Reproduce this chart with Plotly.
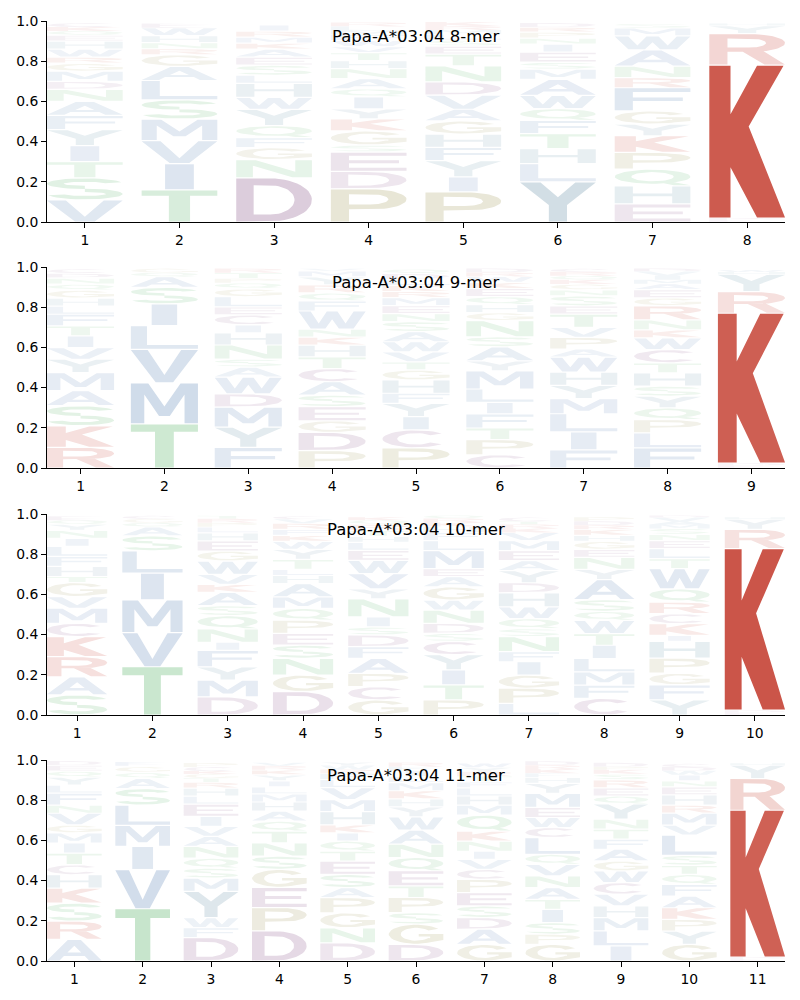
import numpy as np
import plotly.graph_objects as go

# ---------------- data (letters listed bottom -> top per position) ----------------
TITLES = ["Papa-A*03:04 8-mer", "Papa-A*03:04 9-mer",
          "Papa-A*03:04 10-mer", "Papa-A*03:04 11-mer"]

LETTERS_8 = ["VSTIYFANDMGRWHEQKC", "TIVMSLAGRNHWE", "DNGFQYWHLSEAKMRI",
             "PDESGKYIQANHTVWFMLR", "PIYFHGAVDNTESLMRK", "YLHTFQWAMSEINPRD",
             "EHQPKYGFRNAWMS", "EDKRYH"]
HEIGHTS_8 = [
    [.11, .11, .08, .08, .08, .07, .07, .06, .04, .05, .04, .03, .04, .04, .03, .02, .02, .02],
    [.16, .13, .115, .107, .096, .096, .07, .058, .03, .03, .035, .04, .02],
    [.22, .09, .06, .05, .06, .08, .06, .07, .04, .05, .04, .04, .03, .03, .03, .03],
    [.165, .087, .096, .035, .07, .06, .05, .06, .04, .05, .05, .04, .04, .03, .03, .03, .02, .02, .02],
    [.15, .075, .08, .066, .066, .066, .058, .07, .066, .08, .058, .04, .03, .03, .02, .02, .02],
    [.2, .09, .075, .075, .066, .058, .066, .08, .05, .035, .05, .04, .03, .03, .025, .02],
    [.09, .09, .083, .083, .083, .058, .066, .115, .05, .058, .08, .07, .04, .02],
    [.01, .01, .76, .157, .04, .01],
]

LETTERS_9 = ["RKSAMYVITFLHGQNDC", "TMVLISAQG", "FYMDWASNHICELGQPTR",
             "PDGESACTHKNWFQRYMV", "PCIYFHGTVWASNEMRKLDQ", "CPTFILMYASNGHQEKWRD",
             "FILMYHWAPVTESNGKQRC", "FLPQYSHTCWKNRGEAMIVD", "EDKRYHW"]
HEIGHTS_9 = [
    [.103, .107, .1, .075, .09, .066, .058, .058, .05, .058, .04, .04, .04, .03, .03, .025, .02],
    [.22, .204, .166, .118, .108, .083, .053, .02, .02],
    [.103, .1, .1, .066, .083, .05, .04, .07, .06, .04, .05, .04, .05, .04, .03, .02, .03, .02],
    [.086, .091, .058, .07, .058, .066, .066, .058, .058, .04, .04, .09, .05, .04, .04, .04, .03, .01],
    [.1, .09, .066, .066, .05, .066, .05, .04, .05, .05, .05, .05, .04, .04, .04, .03, .03, .03, .03, .02],
    [.066, .075, .058, .07, .058, .066, .09, .05, .07, .05, .08, .04, .04, .04, .04, .03, .03, .02, .02],
    [.09, .09, .09, .075, .066, .066, .075, .04, .058, .05, .066, .04, .05, .03, .03, .02, .02, .02, .015],
    [.1, .075, .066, .058, .058, .05, .066, .05, .066, .058, .04, .05, .07, .04, .04, .03, .02, .02, .02, .015],
    [.012, .012, .746, .108, .085, .012, .01],
]

LETTERS_10 = ["SARKCMVGTHFLINYQE", "TVMILSAQGC", "DMYFINQSAKVWGEHLPRT",
              "DGNSEPQMAHLTYWKFRVC", "GCPAFDSINYVWELHTRQK", "PTIYCSDNWGAEMLFHKRQ",
              "LPGIFNSQWHDYAEMVKRTC", "CFMLITWQSAYNEGHKRDP", "YFGPHIKCRQWTLENSMAVD",
              "EDKRYH"]
HEIGHTS_10 = [
    [.1, .09, .1, .1, .066, .075, .058, .07, .03, .05, .05, .05, .04, .04, .03, .02, .02],
    [.24, .17, .163, .133, .11, .075, .045, .02, .02, .015],
    [.09, .083, .066, .083, .04, .066, .066, .05, .066, .04, .05, .066, .05, .05, .04, .03, .02, .02, .015],
    [.116, .083, .083, .066, .058, .066, .058, .058, .066, .04, .03, .05, .05, .04, .03, .03, .03, .02, .015],
    [.075, .066, .066, .075, .058, .058, .04, .05, .09, .05, .075, .066, .05, .04, .03, .03, .03, .02, .015],
    [.075, .075, .075, .075, .066, .04, .05, .066, .05, .066, .05, .04, .09, .05, .04, .03, .02, .02, .015],
    [.058, .075, .066, .066, .05, .075, .04, .05, .058, .07, .05, .06, .05, .05, .05, .04, .02, .02, .015, .02],
    [.083, .066, .066, .066, .066, .058, .066, .045, .058, .1, .05, .06, .04, .04, .03, .03, .02, .02, .02],
    [.075, .075, .058, .075, .083, .03, .058, .05, .058, .066, .1, .05, .05, .04, .03, .03, .02, .015, .02, .01],
    [.012, .012, .804, .096, .05, .01],
]

LETTERS_11 = ["ARSKHCTIMGVNFLYQED", "TVIMLSAQGF", "DFWYMSQNAVIELHRTGKCP",
              "DPEGSNTQAHMLIYKRV", "DNGPASETQIKHMVLFRWY", "DGSPTEQNAWYHKMLIFR",
              "GADSEPCVINKQMHLFTRYW", "GPSITANVQLCWEMYHFKRD", "ILMHVCWGAFTNYQERSKPD",
              "GYPKAFQTSLVMRHENIWDC", "EDKRYH"]
HEIGHTS_11 = [
    [.108, .09, .09, .075, .066, .05, .058, .05, .05, .04, .058, .04, .06, .04, .04, .03, .03, .02],
    [.26, .195, .115, .105, .1, .083, .05, .03, .03, .025],
    [.116, .05, .05, .13, .066, .05, .05, .058, .05, .05, .05, .06, .04, .04, .03, .02, .02, .015, .02, .02],
    [.15, .116, .1, .09, .066, .066, .058, .05, .05, .045, .04, .035, .03, .03, .025, .02, .015],
    [.09, .075, .075, .075, .05, .066, .066, .05, .05, .04, .04, .066, .06, .06, .04, .03, .02, .02, .015],
    [.083, .1, .058, .075, .058, .075, .066, .066, .07, .066, .05, .04, .04, .04, .03, .03, .02, .02],
    [.083, .075, .058, .058, .066, .066, .05, .05, .04, .05, .05, .08, .05, .045, .04, .03, .03, .02, .02, .025],
    [.083, .05, .058, .066, .05, .058, .058, .058, .05, .083, .05, .05, .05, .07, .05, .03, .02, .02, .02, .02],
    [.075, .075, .066, .058, .058, .058, .058, .05, .058, .05, .05, .05, .075, .04, .04, .04, .03, .02, .015, .02],
    [.083, .066, .058, .058, .058, .058, .05, .045, .05, .1, .05, .06, .04, .05, .04, .03, .03, .02, .02, .015],
    [.01, .01, .73, .158, .066, .01],
]

PANELS = [(TITLES[0], LETTERS_8, HEIGHTS_8), (TITLES[1], LETTERS_9, HEIGHTS_9),
          (TITLES[2], LETTERS_10, HEIGHTS_10), (TITLES[3], LETTERS_11, HEIGHTS_11)]

# ---------------- style ----------------
BASE_COLORS = {
    "red": (196, 62, 48), "purple": (130, 75, 130), "olive": (150, 140, 70),
    "green": (80, 175, 95), "blue": (75, 120, 175), "teal": (80, 130, 155),
}
LETTER_GROUP = {}
for g, s in [("red", "KR"), ("purple", "DEC"), ("olive", "PG"), ("green", "TSNQ"),
             ("blue", "AVLIMFW"), ("teal", "YH")]:
    for ch in s:
        LETTER_GROUP[ch] = g

LETTER_WIDTH = 0.8
FONT = "DejaVu Sans"


def arc(cx, cy, rx, ry, a0, a1, n=28):
    t = np.radians(np.linspace(a0, a1, n))
    return [(cx + rx * np.cos(a), cy + ry * np.sin(a)) for a in t]


def sector(cx, cy, rxo, ryo, rxi, ryi, a0, a1, n=30):
    return arc(cx, cy, rxo, ryo, a0, a1, n) + arc(cx, cy, rxi, ryi, a1, a0, n)


def rect(x0, y0, x1, y1):
    return [(x0, y0), (x1, y0), (x1, y1), (x0, y1)]


def area(p):
    s = 0.0
    for i in range(len(p)):
        x0, y0 = p[i]
        x1, y1 = p[(i + 1) % len(p)]
        s += x0 * y1 - x1 * y0
    return s / 2


def orient(p, ccw=True):
    return p if (area(p) > 0) == ccw else p[::-1]


# glyph outlines in a unit box: (outer polygons, hole polygons)
GLYPHS = {
    "A": ([[(0, 0), (0.23, 0), (0.31, 0.22), (0.69, 0.22), (0.77, 0), (1, 0), (0.62, 1), (0.38, 1)]],
          [[(0.374, 0.38), (0.626, 0.38), (0.5, 0.71)]]),
    "C": ([sector(0.5, 0.5, 0.5, 0.5, 0.28, 0.34, 40, 320)], []),
    "D": ([[(0, 0), (0.45, 0)] + arc(0.45, 0.5, 0.55, 0.5, -90, 90) + [(0, 1)]],
          [[(0.23, 0.16)] + arc(0.45, 0.5, 0.32, 0.34, -90, 90) + [(0.23, 0.84)]]),
    "E": ([[(0, 0), (1, 0), (1, 0.17), (0.24, 0.17), (0.24, 0.42), (0.9, 0.42), (0.9, 0.58),
            (0.24, 0.58), (0.24, 0.83), (1, 0.83), (1, 1), (0, 1)]], []),
    "F": ([[(0, 0), (0.24, 0), (0.24, 0.42), (0.9, 0.42), (0.9, 0.58), (0.24, 0.58),
            (0.24, 0.83), (1, 0.83), (1, 1), (0, 1)]], []),
    "G": ([sector(0.5, 0.5, 0.5, 0.5, 0.28, 0.34, 35, 325),
           [(0.55, 0.38), (1.0, 0.38), (1.0, 0.52), (0.55, 0.52)],
           [(0.76, 0.08), (1.0, 0.2), (1.0, 0.4), (0.76, 0.4)]], []),
    "H": ([[(0, 0), (0.24, 0), (0.24, 0.42), (0.76, 0.42), (0.76, 0), (1, 0), (1, 1), (0.76, 1),
            (0.76, 0.58), (0.24, 0.58), (0.24, 1), (0, 1)]], []),
    "I": ([rect(0.31, 0, 0.69, 1)], []),
    "K": ([[(0, 0), (0.28, 0), (0.28, 0.33), (0.63, 0), (1, 0), (0.52, 0.6), (0.98, 1),
            (0.63, 1), (0.28, 0.68), (0.28, 1), (0, 1)]], []),
    "L": ([[(0, 0), (1, 0), (1, 0.17), (0.24, 0.17), (0.24, 1), (0, 1)]], []),
    "M": ([[(0, 0), (0.2, 0), (0.2, 0.72), (0.42, 0.18), (0.58, 0.18), (0.8, 0.72), (0.8, 0),
            (1, 0), (1, 1), (0.74, 1), (0.5, 0.42), (0.26, 1), (0, 1)]], []),
    "N": ([[(0, 0), (0.22, 0), (0.22, 0.68), (0.74, 0), (1, 0), (1, 1), (0.78, 1), (0.78, 0.32),
            (0.26, 1), (0, 1)]], []),
    "P": ([[(0, 0), (0.24, 0), (0.24, 0.38), (0.55, 0.38)] + arc(0.55, 0.69, 0.45, 0.31, -90, 90) + [(0, 1)]],
          [[(0.24, 0.53)] + arc(0.52, 0.69, 0.24, 0.16, -90, 90) + [(0.24, 0.85)]]),
    "Q": ([arc(0.5, 0.55, 0.5, 0.45, 0, 360, 48)[:-1],
           [(0.55, 0.22), (0.75, 0.22), (1.0, 0.0), (0.78, 0.0)]],
          [arc(0.5, 0.55, 0.28, 0.3, 0, 360, 48)[:-1]]),
    "R": ([[(0, 0), (0.24, 0), (0.24, 0.42), (0.55, 0.42)] + arc(0.55, 0.71, 0.45, 0.29, -90, 90) + [(0, 1)],
           [(0.42, 0.46), (0.73, 0), (1, 0), (0.68, 0.5)]],
          [[(0.24, 0.56)] + arc(0.52, 0.71, 0.23, 0.15, -90, 90) + [(0.24, 0.86)]]),
    "S": ([sector(0.5, 0.745, 0.5, 0.255, 0.28, 0.095, 15, 270),
           sector(0.5, 0.255, 0.5, 0.255, 0.28, 0.095, -165, 90)], []),
    "T": ([[(0, 0.83), (0.36, 0.83), (0.36, 0), (0.64, 0), (0.64, 0.83), (1, 0.83), (1, 1), (0, 1)]], []),
    "V": ([[(0, 1), (0.25, 1), (0.5, 0.22), (0.75, 1), (1, 1), (0.63, 0), (0.37, 0)]], []),
    "W": ([[(0, 1), (0.18, 1), (0.3, 0.3), (0.42, 1), (0.58, 1), (0.7, 0.3), (0.82, 1), (1, 1),
            (0.82, 0), (0.6, 0), (0.5, 0.55), (0.4, 0), (0.18, 0)]], []),
    "Y": ([[(0, 1), (0.27, 1), (0.5, 0.62), (0.73, 1), (1, 1), (0.62, 0.42), (0.62, 0),
            (0.38, 0), (0.38, 0.42)]], []),
}


def letter_alpha(h):
    return min(0.88, 0.05 + 1.05 * h)


def blend(rgb, a):
    return "rgb(%d,%d,%d)" % tuple(int(round(255 - a * (255 - c))) for c in rgb)


fig = go.Figure()

# panel vertical domains (paper coordinates) from pixel layout
TOP, BOT, H = 21, 39, 1000
panel_px = [(21, 222), (267, 468), (514, 715), (760, 961)]
plot_h = H - TOP - BOT

for pi, (title, letters, heights) in enumerate(PANELS):
    n = len(letters)
    sfx = "" if pi == 0 else str(pi + 1)
    groups = {}
    for pos, (word, hs) in enumerate(zip(letters, heights), start=1):
        base = 0.0
        for ch, h in zip(word, hs):
            a = round(letter_alpha(h), 2)
            col = blend(BASE_COLORS[LETTER_GROUP[ch]], a)
            xs, ys = groups.setdefault(col, ([], []))
            pad = 0.003 if h > 0.02 else 0.0
            y0, y1 = base + pad, base + h - pad
            outers, holes = GLYPHS[ch]
            for poly, ccw in [(p, True) for p in outers] + [(p, False) for p in holes]:
                poly = orient(poly, ccw)
                for (u, v) in poly + [poly[0]]:
                    xs.append(pos - LETTER_WIDTH / 2 + LETTER_WIDTH * u)
                    ys.append(y0 + (y1 - y0) * v)
                xs.append(None)
                ys.append(None)
            base += h
    for col, (xs, ys) in groups.items():
        fig.add_trace(go.Scatter(
            x=xs, y=ys, mode="lines", fill="toself", fillcolor=col,
            line=dict(width=0, color=col), hoverinfo="skip", showlegend=False,
            xaxis="x" + sfx, yaxis="y" + sfx))

    top_px, bot_px = panel_px[pi]
    dom = [1 - (bot_px - TOP) / plot_h, 1 - (top_px - TOP) / plot_h]
    axis_common = dict(showline=True, linecolor="black", linewidth=1, ticks="outside",
                       ticklen=5, tickwidth=1, tickcolor="black", showgrid=False,
                       zeroline=False, mirror=False,
                       tickfont=dict(family=FONT, size=13.9, color="black"))
    fig.layout["xaxis" + sfx] = dict(domain=[0, 1], range=[1 - 0.4, n + 0.4],
                                     tickvals=list(range(1, n + 1)), anchor="y" + sfx,
                                     **axis_common)
    yt = [0, 0.2, 0.4, 0.6, 0.8, 1.0]
    fig.layout["yaxis" + sfx] = dict(domain=dom, range=[0, 1], tickvals=yt,
                                     ticktext=["%.1f" % v for v in yt], anchor="x" + sfx,
                                     **axis_common)
    fig.add_annotation(text=title, x=0.5, y=0.925, xref="x%s domain" % sfx,
                       yref="y%s domain" % sfx, showarrow=False, xanchor="center",
                       yanchor="middle", font=dict(family=FONT, size=16.5, color="black"))

fig.update_layout(width=800, height=1000, paper_bgcolor="white", plot_bgcolor="white",
                  margin=dict(l=47, r=15, t=TOP, b=BOT), font=dict(family=FONT))

fig.write_html("out.html")
